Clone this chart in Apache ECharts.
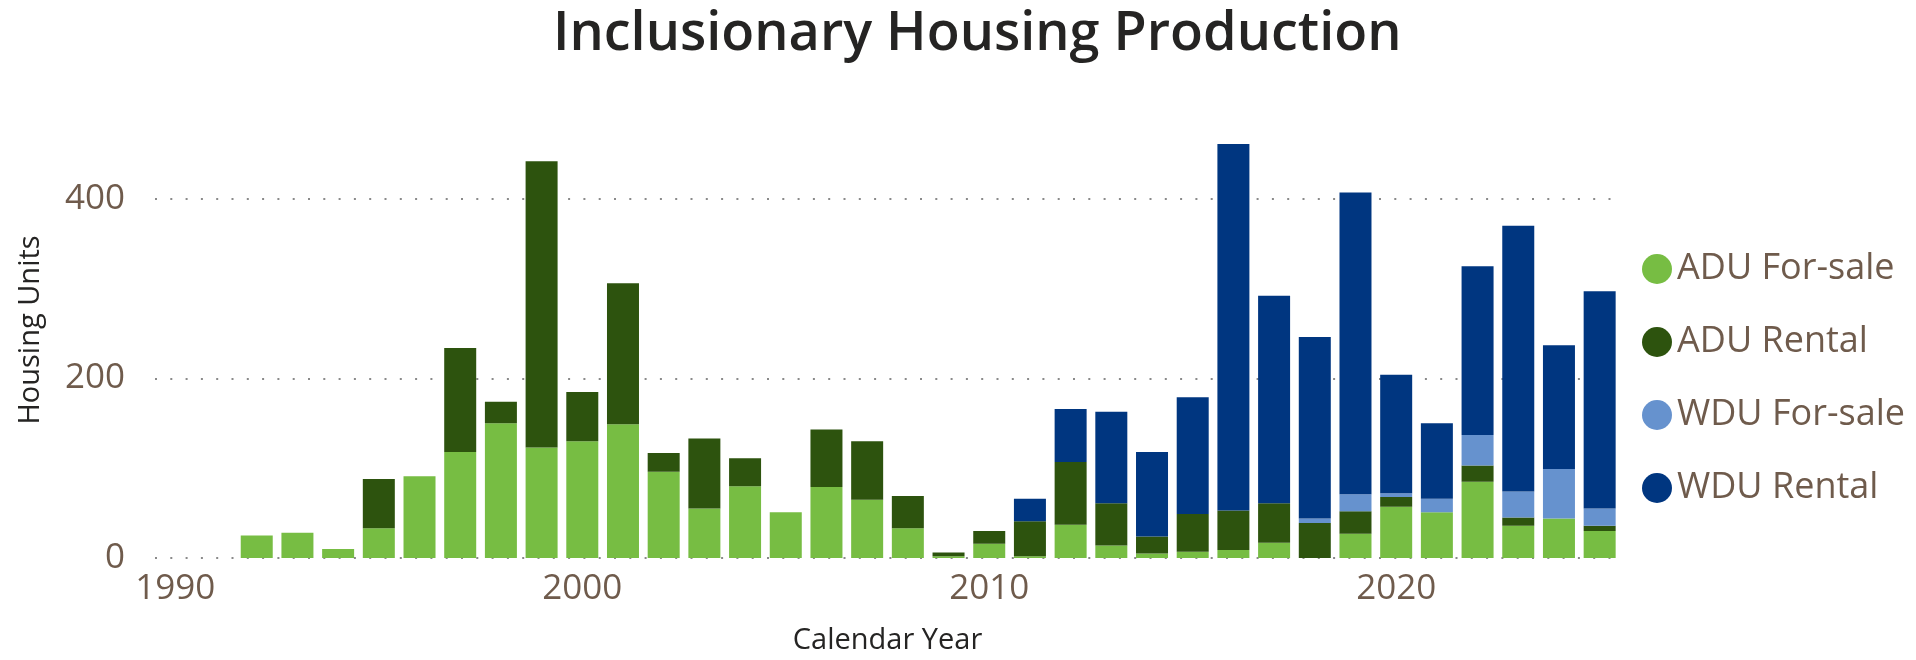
<!DOCTYPE html>
<html>
<head>
<meta charset="utf-8">
<script src="https://cdn.jsdelivr.net/npm/echarts@6/dist/echarts.min.js"></script>
<style>
html,body{margin:0;padding:0;background:#fff;}
#c{width:1916px;height:660px;}
</style>
</head>
<body>
<div id="c"></div>
<script>
const years = [1990,1991,1992,1993,1994,1995,1996,1997,1998,1999,2000,2001,2002,2003,2004,2005,2006,2007,2008,2009,2010,2011,2012,2013,2014,2015,2016,2017,2018,2019,2020,2021,2022,2023,2024,2025];
const aduForSale = [0,0,25,28,10,33,91,118,150,123,130,149,96,55,80,51,79,65,33,2,16,2,37,14,5,7,9,17,0,27,57,51,85,36,44,30];
const aduRental  = [0,0,0,0,0,55,0,116,24,319,55,157,21,78,31,0,64,65,36,4,14,39,70,47,19,42,44,44,39,25,11,0,18,9,0,6];
const wduForSale = [0,0,0,0,0,0,0,0,0,0,0,0,0,0,0,0,0,0,0,0,0,0,0,0,0,0,0,0,5,19,4,15,34,29,55,19];
const wduRental  = [0,0,0,0,0,0,0,0,0,0,0,0,0,0,0,0,0,0,0,0,0,25,59,102,94,130,408,231,202,336,132,84,188,296,138,242];
const xTickLabels = ['1990','2000','2010','2020'];
const yTicks = [0,200,400];
const seriesNames = ['ADU For-sale','ADU Rental','WDU For-sale','WDU Rental'];
const seriesColors = ['#77BD43','#2D530E','#6692CE','#003680'];

const FONT = '"Open Sans", "Noto Sans", sans-serif';
const labelColor = '#6F5B4C';
const darkText = '#252423';

const seriesValues = [aduForSale, aduRental, wduForSale, wduRental];
const series = seriesValues.map((vals, k) => ({
  name: seriesNames[k],
  type: 'bar',
  stack: 'total',
  barWidth: 32,
  itemStyle: { color: seriesColors[k] },
  emphasis: { disabled: true },
  data: vals
}));

const chart = echarts.init(document.getElementById('c'), null, { renderer: 'canvas' });
chart.setOption({
  animation: false,
  backgroundColor: '#fff',
  title: {
    text: 'Inclusionary Housing Production',
    left: 548,
    top: 3,
    textStyle: { fontFamily: FONT, fontSize: 54, fontWeight: 600, color: darkText }
  },
  legend: {
    orient: 'vertical',
    left: 1637,
    top: 246,
    icon: 'circle',
    itemWidth: 30,
    itemHeight: 30,
    itemGap: 37,
    textStyle: { fontFamily: FONT, fontSize: 36, color: labelColor },
    data: seriesNames
  },
  grid: { left: 155, right: 296, top: 136, bottom: 100, containLabel: false },
  xAxis: {
    type: 'category',
    data: years.map(String),
    name: 'Calendar Year',
    nameLocation: 'middle',
    nameGap: 68,
    nameTextStyle: { fontFamily: FONT, fontSize: 29, fontWeight: 500, color: darkText },
    axisLine: { show: false },
    axisTick: { show: false },
    axisLabel: {
      interval: (i, v) => xTickLabels.indexOf(v) >= 0,
      fontFamily: FONT, fontSize: 35, color: labelColor, margin: 14
    },
    splitLine: { show: false }
  },
  yAxis: {
    type: 'value',
    min: 0,
    max: 470,
    name: 'Housing Units',
    nameLocation: 'middle',
    nameRotate: 90,
    nameGap: 110,
    nameTextStyle: { fontFamily: FONT, fontSize: 29, fontWeight: 500, color: darkText, padding: [0, 0, 0, 34] },
    axisLine: { show: false },
    axisTick: { show: false, customValues: yTicks },
    axisLabel: {
      customValues: yTicks,
      fontFamily: FONT, fontSize: 35, color: labelColor, margin: 30
    },
    splitLine: { show: true, lineStyle: { color: '#8a8a8a', type: [2, 13.3], width: 2 } }
  },
  series: series
});
</script>
</body>
</html>
